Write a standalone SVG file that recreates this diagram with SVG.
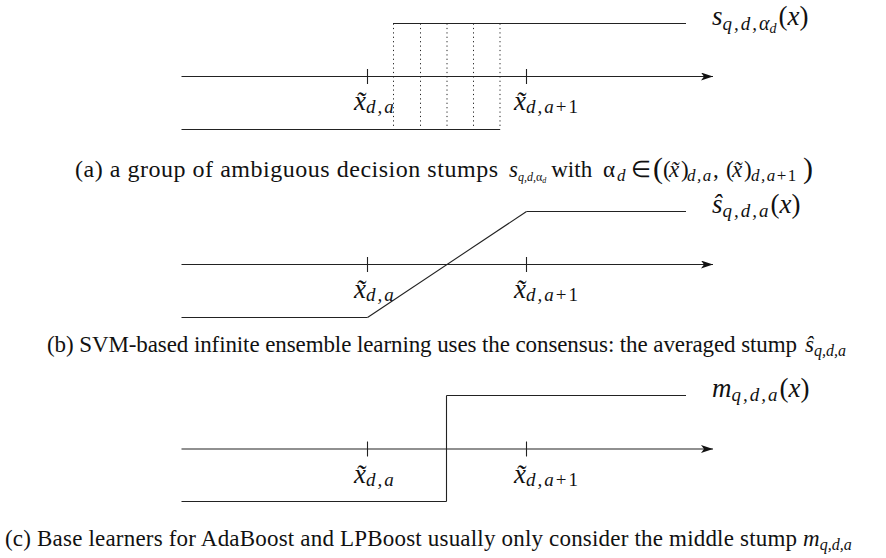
<svg xmlns="http://www.w3.org/2000/svg" width="886" height="558" viewBox="0 0 886 558">
<defs>
<marker id="arr" viewBox="0 0 12 8" refX="12" refY="4" markerWidth="12" markerHeight="8" markerUnits="userSpaceOnUse" orient="auto">
<path d="M0,0 L12,4 L0,8 L3,4 z" fill="#111"/>
</marker>
<style>
.ln{stroke:#222;stroke-width:1.1;fill:none}
.ax{stroke:#222;stroke-width:1.1;fill:none;marker-end:url(#arr)}
.dot{stroke:#222;stroke-width:1;stroke-dasharray:1.2 3.2;fill:none}
.m{font-family:"Liberation Serif",serif;font-style:italic;font-size:27px;fill:#111}
.up{font-style:normal}
.sub{font-size:19px;letter-spacing:2px}
.cap{font-family:"Liberation Serif",serif;font-size:23px;fill:#111}
.it{font-style:italic}
.cs{font-style:italic;font-size:17px;letter-spacing:1.5px}
</style>
</defs>
<rect width="886" height="558" fill="#fff"/>

<g id="connectors">
<line class="ax" x1="181.5" y1="76.5" x2="713" y2="76.5"/>
<line class="ax" x1="181.5" y1="264.5" x2="713" y2="264.5"/>
<line class="ax" x1="181.5" y1="449" x2="713" y2="449"/>
</g>

<g id="panel-a">
<line class="ln" x1="393" y1="23.5" x2="686" y2="23.5"/>
<line class="ln" x1="181.5" y1="129.5" x2="500" y2="129.5"/>
<line class="ln" x1="367.5" y1="69" x2="367.5" y2="84"/>
<line class="ln" x1="526.5" y1="69" x2="526.5" y2="84"/>
<line class="dot" x1="393.5" y1="23.5" x2="393.5" y2="129.5"/>
<line class="dot" x1="420.5" y1="23.5" x2="420.5" y2="129.5"/>
<line class="dot" x1="447" y1="23.5" x2="447" y2="129.5"/>
<line class="dot" x1="473.5" y1="23.5" x2="473.5" y2="129.5"/>
<line class="dot" x1="500" y1="23.5" x2="500" y2="129.5"/>
<text class="m" x="354" y="110">x̃<tspan class="sub" dy="3">d,a</tspan></text>
<text class="m" x="514" y="110">x̃<tspan class="sub" dy="3">d,a<tspan class="up">+1</tspan></tspan></text>
<text class="m" x="712" y="25">s<tspan class="sub" dy="5">q,d,</tspan><tspan style="font-size:20px">α</tspan><tspan style="font-size:14px" dy="3">d</tspan><tspan class="up" dx="2" dy="-8">(</tspan>x<tspan class="up">)</tspan></text>
<text class="cap" y="177"><tspan x="75" font-size="24" textLength="423" lengthAdjust="spacing">(a)  a group of ambiguous decision stumps</tspan><tspan x="509" class="it">s</tspan><tspan class="it" font-size="12" dy="4">q,d,</tspan><tspan font-size="12">α</tspan><tspan class="it" font-size="8" dy="2">d</tspan><tspan dx="5" dy="-6">with</tspan><tspan x="603">α</tspan><tspan x="617" class="cs" dy="4">d</tspan><tspan x="631" dy="-4">∈</tspan><tspan x="653" font-size="30" dy="1">(</tspan><tspan x="663" dy="-1">(</tspan><tspan x="669" class="it">x̃</tspan><tspan x="681">)</tspan><tspan x="687" class="cs" dy="4">d,a</tspan><tspan x="713" dy="-4">,</tspan><tspan x="726">(</tspan><tspan x="732" class="it">x̃</tspan><tspan x="744">)</tspan><tspan x="751" class="cs" dy="4">d,a<tspan class="up">+1</tspan></tspan><tspan x="803" font-size="30" dy="-3">)</tspan></text>
</g>

<g id="panel-b">
<line class="ln" x1="526.5" y1="211.5" x2="686" y2="211.5"/>
<line class="ln" x1="181.5" y1="317.5" x2="367.5" y2="317.5"/>
<line class="ln" x1="367.5" y1="317.5" x2="526.5" y2="211.5"/>
<line class="ln" x1="367.5" y1="257" x2="367.5" y2="272"/>
<line class="ln" x1="526.5" y1="257" x2="526.5" y2="272"/>
<text class="m" x="354" y="298">x̃<tspan class="sub" dy="3">d,a</tspan></text>
<text class="m" x="514" y="298">x̃<tspan class="sub" dy="3">d,a<tspan class="up">+1</tspan></tspan></text>
<text class="m" x="712" y="213">ŝ<tspan class="sub" dy="4">q,d,a</tspan><tspan class="up" dy="-4">(</tspan>x<tspan class="up">)</tspan></text>
<text class="cap" y="352"><tspan x="47" textLength="750" lengthAdjust="spacing">(b)  SVM-based infinite ensemble learning uses the consensus: the averaged stump</tspan><tspan x="805" class="it">ŝ</tspan><tspan class="it" font-size="16" dy="4">q,d,a</tspan></text>
</g>

<g id="panel-c">
<line class="ln" x1="446.5" y1="395.5" x2="686" y2="395.5"/>
<line class="ln" x1="446.5" y1="395.5" x2="446.5" y2="501.5"/>
<line class="ln" x1="181.5" y1="501.5" x2="446.5" y2="501.5"/>
<line class="ln" x1="367.5" y1="441.5" x2="367.5" y2="456.5"/>
<line class="ln" x1="526.5" y1="441.5" x2="526.5" y2="456.5"/>
<text class="m" x="354" y="483">x̃<tspan class="sub" dy="3">d,a</tspan></text>
<text class="m" x="514" y="483">x̃<tspan class="sub" dy="3">d,a<tspan class="up">+1</tspan></tspan></text>
<text class="m" x="712" y="397">m<tspan class="sub" dy="4">q,d,a</tspan><tspan class="up" dy="-4">(</tspan>x<tspan class="up">)</tspan></text>
<text class="cap" y="546"><tspan x="5" textLength="792" lengthAdjust="spacing">(c)  Base learners for AdaBoost and LPBoost usually only consider the middle stump</tspan><tspan x="803" class="it">m</tspan><tspan class="it" font-size="16" dy="4">q,d,a</tspan></text>
</g>
</svg>
